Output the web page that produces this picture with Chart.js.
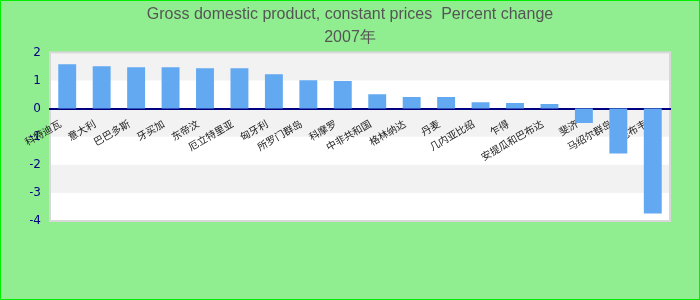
<!DOCTYPE html>
<html><head><meta charset="utf-8">
<script src="https://cdn.jsdelivr.net/npm/chart.js@4/dist/chart.umd.min.js"></script>
<style>
html,body{margin:0;padding:0;background:#90ee90;}
#wrap{width:700px;height:300px;box-sizing:border-box;border:1px solid #00ee00;background:#90ee90;position:relative;}
canvas{display:block;}
</style></head><body>
<div id="wrap"><canvas id="c" width="698" height="298"></canvas></div>
<script>
const titleLines = ['Gross domestic product, constant prices  Percent change', '2007年'];
const categories = ['科特迪瓦','意大利','巴巴多斯','牙买加','东帝汶','厄立特里亚','匈牙利','所罗门群岛','科摩罗','中非共和国','格林纳达','丹麦','几内亚比绍','乍得','安提瓜和巴布达','斐济','马绍尔群岛','津巴布韦'];
const growth = [1.58,1.51,1.47,1.47,1.44,1.44,1.22,1.01,0.98,0.51,0.41,0.41,0.23,0.20,0.16,-0.51,-1.60,-3.73];
const yTicks = [2,1,0,-1,-2,-3,-4];

const bgPlugin = {
  id:'bg',
  beforeDraw(chart){
    const {ctx, chartArea:a, scales:{y}} = chart;
    ctx.save();
    ctx.fillStyle='#ffffff';
    ctx.fillRect(a.left,a.top,a.right-a.left,a.bottom-a.top);
    ctx.fillStyle='#f2f2f2';
    for(let i=0;i<yTicks.length-1;i+=2){
      const t=y.getPixelForValue(yTicks[i]), b=y.getPixelForValue(yTicks[i+1]);
      ctx.fillRect(a.left,t,a.right-a.left,b-t);
    }
    ctx.strokeStyle='#d8d8d8';
    ctx.lineWidth=2;
    ctx.strokeRect(a.left,a.top,a.right-a.left,a.bottom-a.top);
    ctx.restore();
  }
};

new Chart(document.getElementById('c'),{
  type:'bar',
  data:{labels:categories,datasets:[{data:growth,backgroundColor:'#62a9f2',borderWidth:0,categoryPercentage:1,barPercentage:0.52}]},
  options:{
    responsive:false,animation:false,
    layout:{padding:{left:29,right:29,top:0,bottom:78}},
    plugins:{
      legend:{display:false},tooltip:{enabled:false},
      title:{display:true,text:titleLines,color:'#555555',font:{family:'Liberation Sans, Arial, sans-serif',size:16,weight:'normal',lineHeight:1.45},padding:{top:2,bottom:3}}
    },
    scales:{
      x:{position:{y:0},z:1,
        grid:{display:false,drawTicks:false},
        border:{display:true,color:'#000080',width:2},
        ticks:{autoSkip:false,maxRotation:30,minRotation:30,padding:9,labelOffset:-7,color:'#222222',font:{family:'Noto Sans CJK SC',size:10}}
      },
      y:{min:-4,max:2,
        afterFit(s){s.width=20;},
        grid:{display:false,drawTicks:false},
        border:{display:false},
        ticks:{stepSize:1,padding:9,color:'#000080',font:{family:'DejaVu Sans',size:12}}
      }
    }
  },
  plugins:[bgPlugin]
});
</script></body></html>
